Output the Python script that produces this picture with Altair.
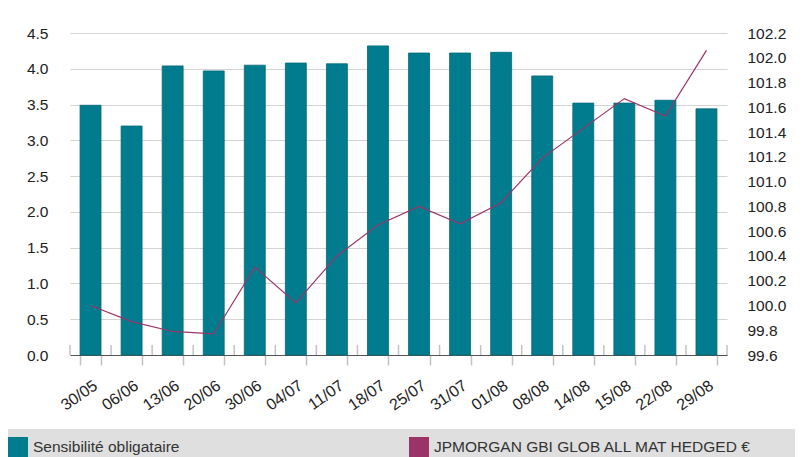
import altair as alt
import pandas as pd

dates = ["30/05", "06/06", "13/06", "20/06", "30/06", "04/07", "11/07", "18/07",
         "25/07", "31/07", "01/08", "08/08", "14/08", "15/08", "22/08", "29/08"]
sensibilite = [3.49, 3.20, 4.04, 3.97, 4.05, 4.08, 4.07, 4.32,
               4.22, 4.22, 4.23, 3.90, 3.52, 3.52, 3.56, 3.44]
jpm = [100.00, 99.87, 99.79, 99.77, 100.31, 100.02, 100.40, 100.65,
       100.80, 100.66, 100.83, 101.19, 101.43, 101.67, 101.53, 102.06]

left_ticks = [0.0, 0.5, 1.0, 1.5, 2.0, 2.5, 3.0, 3.5, 4.0, 4.5]
right_ticks = [99.6, 99.8, 100.0, 100.2, 100.4, 100.6, 100.8, 101.0,
               101.2, 101.4, 101.6, 101.8, 102.0, 102.2]

name_bar = "Sensibilité obligataire"
name_line = "JPMORGAN GBI GLOB ALL MAT HEDGED €"

df = pd.DataFrame({"date": dates, "sens": sensibilite, "jpm": jpm})

FONT = "Liberation Sans"
W, H = 657, 322
TICK_COLOR = "#c2c2c2"
PAD_IN = 0.49
HALF_STEP = W / len(dates) / 2

xscale = alt.Scale(paddingInner=PAD_IN, paddingOuter=PAD_IN / 2)
color_scale = alt.Scale(domain=[name_bar, name_line], range=["#007C8E", "#9C3366"])

xaxis = alt.Axis(title=None, labelAngle=-35, labelAlign="right", labelBaseline="top",
                 labelFontSize=16, labelFont=FONT, labelColor="#222",
                 ticks=True, tickBand="extent", tickSize=10, tickColor=TICK_COLOR, tickWidth=1.5,
                 domainColor="#555", domainWidth=1.2, labelPadding=12, grid=False)

strip = alt.Chart(pd.DataFrame({"a": [0]})).mark_rect(fill="#dfdfdf").encode(
    x=alt.value(-62), x2=alt.value(725), y=alt.value(396), y2=alt.value(427))

ticks_up = alt.Chart(df).mark_rule(color=TICK_COLOR, strokeWidth=1.5, xOffset=-HALF_STEP).encode(
    x=alt.X("date:N", sort=dates, scale=xscale, bandPosition=0.5, axis=xaxis),
    y=alt.value(H - 10), y2=alt.value(H))

ticks_up_end = alt.Chart(df.tail(1)).mark_rule(color=TICK_COLOR, strokeWidth=1.5, xOffset=HALF_STEP).encode(
    x=alt.X("date:N", sort=dates, scale=xscale, bandPosition=0.5),
    y=alt.value(H - 10), y2=alt.value(H))

bars = alt.Chart(df).mark_bar(stroke="#00687a", strokeWidth=0.8).encode(
    x=alt.X("date:N", sort=dates, scale=xscale, axis=xaxis),
    y=alt.Y("sens:Q", scale=alt.Scale(domain=[0, 4.5], nice=False, zero=True),
            axis=alt.Axis(title=None, values=left_ticks, format=".1f", orient="left",
                          ticks=False, domain=False, labelPadding=22,
                          labelFontSize=15.5, labelFont=FONT, labelColor="#222",
                          grid=True, gridColor="#d4d4d4", gridWidth=1.2)),
    color=alt.Color("s:N", scale=color_scale, legend=alt.Legend(
        title=None, orient="none", legendX=-62, legendY=404, direction="horizontal",
        columns=2, columnPadding=229, symbolType="square", symbolSize=400,
        symbolStrokeWidth=0, labelFontSize=15.5, labelFont=FONT, labelColor="#333",
        labelOffset=5, labelLimit=500)),
).transform_calculate(s=f"'{name_bar}'")

line = alt.Chart(df).mark_line(strokeWidth=1.2).encode(
    x=alt.X("date:N", sort=dates, scale=xscale),
    y=alt.Y("jpm:Q", scale=alt.Scale(domain=[99.6, 102.2], nice=False, zero=False),
            axis=alt.Axis(title=None, values=right_ticks, format=".1f", orient="right",
                          ticks=False, domain=False, labelPadding=20,
                          labelFontSize=15.5, labelFont=FONT, labelColor="#222", grid=False)),
    color=alt.Color("s:N", scale=color_scale),
).transform_calculate(s=f"'{name_line}'")

left_layer = alt.layer(strip, ticks_up, ticks_up_end, bars)

chart = alt.layer(left_layer, line).resolve_scale(y="independent").properties(
    width=W, height=H,
    autosize=alt.AutoSizeParams(type="none"),
    padding={"left": 62, "top": 25, "right": 68, "bottom": 105},
    background="white",
).configure_view(stroke=None)

chart.save("out.html", embed_options={"renderer": "svg", "actions": False})
